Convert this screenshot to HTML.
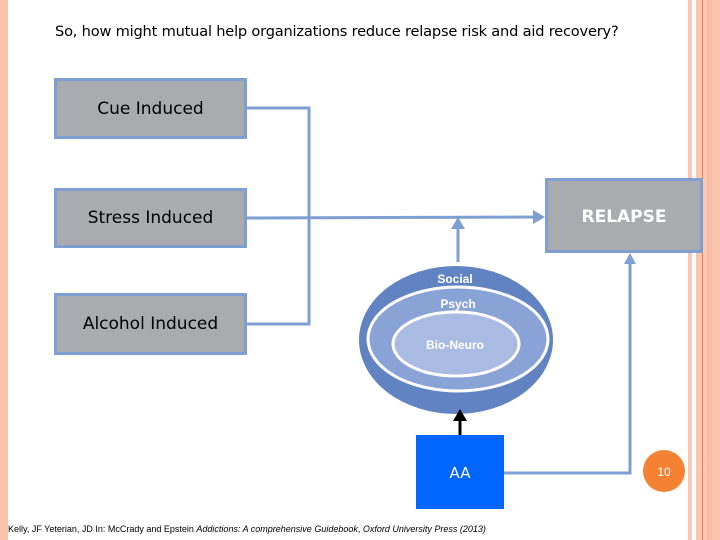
<!DOCTYPE html>
<html><head><style>
body{margin:0;width:720px;height:540px;overflow:hidden;background:#fff;font-family:"Liberation Sans",sans-serif;position:relative}
.s{position:absolute;top:0;height:540px}
.b{position:absolute;left:54px;width:187px;background:#a9abae;border:3px solid #7f9fd3;color:#000;font-family:"DejaVu Sans",sans-serif;font-size:17px;display:flex;align-items:center;justify-content:center}
</style></head><body>
<div class="s" style="left:0;width:8px;background:#f9c3ac"></div>
<div class="s" style="left:688px;width:4px;background:#f9c8b4"></div>
<div class="s" style="left:696px;width:32px;background:#fcc5ad"></div>
<div class="s" style="left:702px;width:1px;background:#e08a62"></div>
<div class="s" style="left:707px;width:5px;background:#f8bca4"></div>
<div style="position:absolute;left:55px;top:23px;font-size:14.6px;font-family:'DejaVu Sans',sans-serif;letter-spacing:-0.2px">So, how might mutual help organizations reduce relapse risk and aid recovery?</div>
<div class="b" style="top:78px;height:55px">Cue Induced</div>
<div class="b" style="top:188px;height:54px">Stress Induced</div>
<div class="b" style="top:293px;height:56px">Alcohol Induced</div>
<div style="position:absolute;left:545px;top:178px;width:152px;background:#a9abae;border:3px solid #7f9fd3;color:#fff;font-weight:bold;font-size:17px;font-family:'DejaVu Sans',sans-serif;display:flex;align-items:center;justify-content:center;padding-top:4px;padding-bottom:2px;box-sizing:content-box;height:63px">RELAPSE</div>
<svg style="position:absolute;left:0;top:0" width="720" height="540">
<g stroke="#7f9fd3" stroke-width="3" fill="none">
<polyline points="244,108 309,108 309,324 244,324"/>
<line x1="244" y1="218" x2="538" y2="217"/>
<line x1="458" y1="262" x2="458" y2="225"/>
<polyline points="503,473 630,473 630,260"/>
</g>
<g fill="#7f9fd3">
<polygon points="545,217 533,210 533,224"/>
<polygon points="458,217 451,229 465,229"/>
<polygon points="630,253 624,264 636,264"/>
</g>
<ellipse cx="456" cy="340" rx="97" ry="74" fill="#6283c2"/>
<ellipse cx="458" cy="339" rx="90" ry="52" fill="#8aa3d6" stroke="#fff" stroke-width="3"/>
<ellipse cx="456" cy="344" rx="63" ry="32" fill="#a9bbe3" stroke="#fff" stroke-width="3"/>
<text x="455" y="283" fill="#fff" font-size="12" font-weight="bold" text-anchor="middle" font-family="Liberation Sans">Social</text>
<text x="458" y="308" fill="#fff" font-size="12" font-weight="bold" text-anchor="middle" font-family="Liberation Sans">Psych</text>
<text x="455" y="349" fill="#fff" font-size="12" font-weight="bold" text-anchor="middle" font-family="Liberation Sans">Bio-Neuro</text>
<line x1="460" y1="435" x2="460" y2="420" stroke="#000" stroke-width="3"/>
<polygon points="460,409 453,421 467,421" fill="#000"/>
<rect x="416" y="435" width="88" height="74" fill="#0066ff"/>
<text x="460" y="478" fill="#fff" font-size="15" text-anchor="middle" font-family="DejaVu Sans">AA</text>
<circle cx="664" cy="471" r="21" fill="#f58232"/>
<text x="664" y="476" fill="#fff" font-size="12" text-anchor="middle" font-family="Liberation Sans">10</text>
</svg>
<div style="position:absolute;left:8px;top:524px;font-size:9px;white-space:nowrap">Kelly, JF Yeterian, JD In: McCrady and Epstein <i>Addictions: A comprehensive Guidebook</i>, <i>Oxford University Press (2013)</i></div>
</body></html>
